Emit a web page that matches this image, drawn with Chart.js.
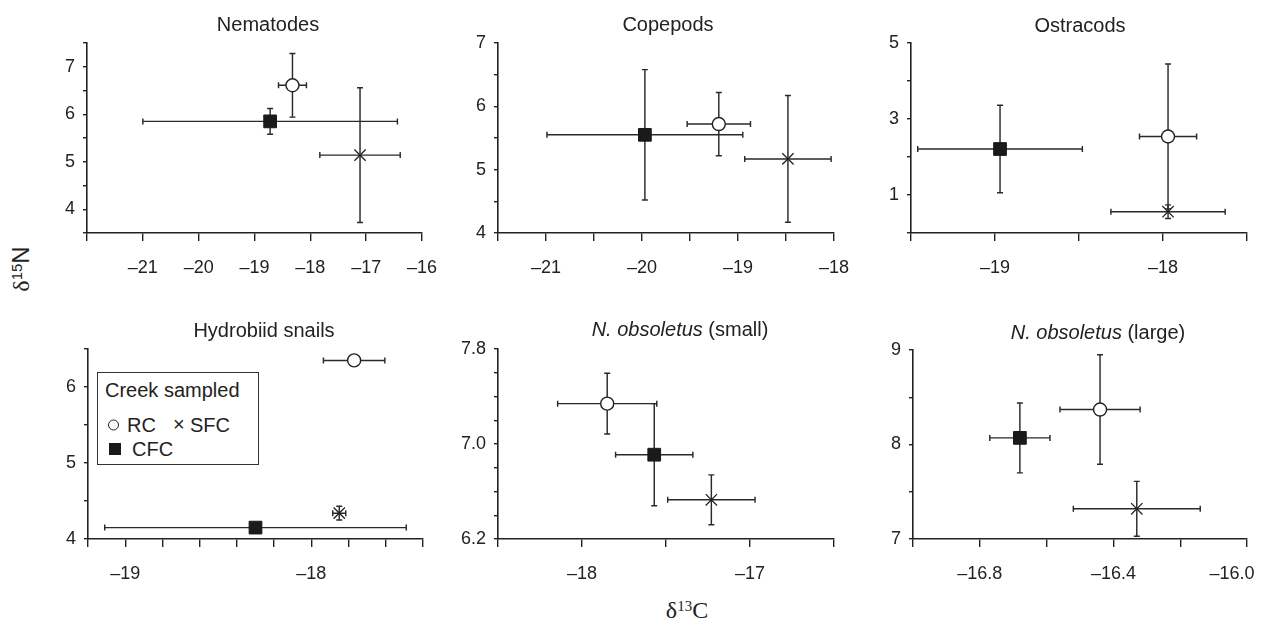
<!DOCTYPE html>
<html>
<head>
<meta charset="utf-8">
<script src="https://cdn.jsdelivr.net/npm/chart.js@4.4.0/dist/chart.umd.min.js"></script>
<style>
  body { margin: 0; background: #fff; }
  #page { position: relative; width: 1262px; height: 621px; overflow: hidden;
          font-family: "Liberation Sans", Arial, Helvetica, sans-serif; color: #222; }
  #page canvas { position: absolute; }
  .ttl { position: absolute; font-size: 20px; line-height: 1; white-space: nowrap; transform: translate(-50%, -50%); }
  .axt { position: absolute; font-size: 24px; line-height: 1; white-space: nowrap; }
  .axt .d { font-family: "Liberation Serif", "Times New Roman", serif; }
  .axt sup { font-size: 15px; vertical-align: baseline; position: relative; top: -7px; }
  #legend { position: absolute; left: 97px; top: 372px; width: 162px; height: 93px;
            border: 1.5px solid #333; box-sizing: border-box; background: #fff; font-size: 20px; }
  #legend .it { position: absolute; line-height: 1; transform: translateY(-50%); white-space: nowrap; }
</style>
</head>
<body>
<div id="page">
  <div id="legend">
    <div class="it" style="left:7px; top:17px;">Creek sampled</div>
    <div class="it" style="left:10px; top:52px; width:9px; height:9px; border:1.4px solid #222; border-radius:50%;"></div>
    <div class="it" style="left:29px; top:52px;">RC</div>
    <div class="it" style="left:75px; top:51px;">×</div>
    <div class="it" style="left:92px; top:52px;">SFC</div>
    <div class="it" style="left:11px; top:76px; width:12px; height:12px; background:#1a1a1a;"></div>
    <div class="it" style="left:34px; top:76px;">CFC</div>
  </div>
  <div class="axt" style="left:21px; top:269px; transform: translate(-50%, -50%) rotate(-90deg);"><span class="d">δ</span><sup>15</sup>N</div>
  <div class="axt" style="left:687px; top:610px; transform: translate(-50%, -50%); font-family:'Liberation Serif', serif;">δ<sup>13</sup>C</div>
</div>
<script>
// ---- values: one entry per panel ----
const panelTitles = ['Nematodes', 'Copepods', 'Ostracods', 'Hydrobiid snails',
                     'N. obsoletus (small)', 'N. obsoletus (large)'];

// RC (open circles)
const rcX    = [-18.32, -19.20, -17.97, -17.77, -17.85, -16.44];
const rcXErr = [0.25, 0.33, 0.17, 0.165, 0.295, 0.12];
const rcY    = [6.61, 5.72, 2.54, 6.35, 7.34, 8.37];
const rcYErr = [0.67, 0.50, 1.91, 0, 0.255, 0.58];
// CFC (filled squares)
const cfcX    = [-18.72, -19.97, -18.97, -18.30, -17.57, -16.68];
const cfcXErr = [2.28, 1.02, 0.49, 0.81, 0.23, 0.09];
const cfcY    = [5.85, 5.55, 2.21, 4.15, 6.91, 8.07];
const cfcYErr = [0.27, 1.03, 1.15, 0.02, 0.43, 0.37];
// SFC (crosses)
const sfcX    = [-17.11, -18.48, -17.97, -17.85, -17.23, -16.33];
const sfcXErr = [0.72, 0.45, 0.34, 0.035, 0.26, 0.19];
const sfcY    = [5.14, 5.17, 0.56, 4.34, 6.53, 7.32];
const sfcYErr = [1.42, 1.00, 0.18, 0.09, 0.21, 0.29];

// axes
const xMin  = [-22, -21.5, -19.5, -19.2, -18.5, -17];
const xMax  = [-16, -18, -17.5, -17.4, -16.5, -16];
const xStep = [1, 0.5, 0.5, 0.2, 0.5, 0.2];
const xLabels = [[-21, -20, -19, -18, -17, -16], [-21, -20, -19, -18], [-19, -18],
                 [-19, -18], [-18, -17], [-16.8, -16.4, -16.0]];
const xDecimals = [0, 0, 0, 0, 0, 1];
const yMin  = [3.5, 4, 0, 4, 6.2, 7];
const yMax  = [7.5, 7, 5, 6.5, 7.8, 9];
const yStep = [0.5, 0.5, 1, 0.5, 0.2, 0.5];
const yLabels = [[4, 5, 6, 7], [4, 5, 6, 7], [1, 3, 5], [4, 5, 6], [6.2, 7.0, 7.8], [7, 8, 9]];
const yDecimals = [0, 0, 0, 0, 1, 0];

// ---- layout ----
const FONT = '"Liberation Sans", Arial, Helvetica, sans-serif';
const plotBoxes = [
  { l: 87,  r: 422,  t: 43,  b: 233 },
  { l: 498, r: 834,  t: 43,  b: 233 },
  { l: 911, r: 1247, t: 43,  b: 233 },
  { l: 88,  r: 423,  t: 349, b: 539 },
  { l: 498, r: 834,  t: 349, b: 539 },
  { l: 913, r: 1247, t: 350, b: 539 }
];
const titlePos = [[268, 24], [668, 24], [1080, 25], [264, 330], [680, 329], [1098, 332]];
const PAD_L = 60, PAD_R = 40, PAD_T = 12, PAD_B = 58;

Chart.defaults.font.family = FONT;
Chart.defaults.color = '#222';

function tickText(v, labels, dec, isLast) {
  const hit = labels.find(l => Math.abs(l - v) < 1e-6);
  if (hit === undefined) return '';
  let s = hit.toFixed(dec).replace('-', '\u2013');
  // the last label of the right-hand panel sits inside the figure edge
  if (isLast) s += '      ';
  return s;
}

// error bars drawn under the markers, through the chart's own scales
const errorBars = {
  id: 'errorBars',
  beforeDatasetsDraw(chart) {
    const ctx = chart.ctx, xs = chart.scales.x, ys = chart.scales.y;
    const cap = 3;
    ctx.save();
    ctx.strokeStyle = '#2a2a2a';
    ctx.lineWidth = 1.45;
    chart.data.datasets.forEach(ds => {
      ds.data.forEach(p => {
        const cx = xs.getPixelForValue(p.x), cy = ys.getPixelForValue(p.y);
        ctx.beginPath();
        if (p.xErr > 0) {
          const x0 = xs.getPixelForValue(p.x - p.xErr), x1 = xs.getPixelForValue(p.x + p.xErr);
          ctx.moveTo(x0, cy); ctx.lineTo(x1, cy);
          ctx.moveTo(x0, cy - cap); ctx.lineTo(x0, cy + cap);
          ctx.moveTo(x1, cy - cap); ctx.lineTo(x1, cy + cap);
        }
        if (p.yErr > 0) {
          const y0 = ys.getPixelForValue(p.y - p.yErr), y1 = ys.getPixelForValue(p.y + p.yErr);
          ctx.moveTo(cx, y0); ctx.lineTo(cx, y1);
          ctx.moveTo(cx - cap, y0); ctx.lineTo(cx + cap, y0);
          ctx.moveTo(cx - cap, y1); ctx.lineTo(cx + cap, y1);
        }
        ctx.stroke();
      });
    });
    ctx.restore();
  }
};

const page = document.getElementById('page');

function makePanel(i) {
  const b = plotBoxes[i];
  const W = (b.r - b.l) + PAD_L + PAD_R, H = (b.b - b.t) + PAD_T + PAD_B;
  const cv = document.createElement('canvas');
  cv.width = W; cv.height = H;
  cv.style.left = (b.l - PAD_L) + 'px';
  cv.style.top = (b.t - PAD_T) + 'px';
  cv.style.width = W + 'px';
  cv.style.height = H + 'px';
  page.appendChild(cv);

  const t = document.createElement('div');
  t.className = 'ttl';
  t.style.left = titlePos[i][0] + 'px';
  t.style.top = titlePos[i][1] + 'px';
  t.innerHTML = panelTitles[i].replace('N. obsoletus', '<i>N. obsoletus</i>');
  page.appendChild(t);

  const lastX = xLabels[i][xLabels[i].length - 1];

  new Chart(cv, {
    type: 'scatter',
    data: {
      datasets: [
        { label: 'RC', data: [{ x: rcX[i], y: rcY[i], xErr: rcXErr[i], yErr: rcYErr[i] }],
          pointStyle: 'circle', pointRadius: 6.5, backgroundColor: '#fff', borderColor: '#222', borderWidth: 1.4 },
        { label: 'CFC', data: [{ x: cfcX[i], y: cfcY[i], xErr: cfcXErr[i], yErr: cfcYErr[i] }],
          pointStyle: 'rect', pointRadius: 9, backgroundColor: '#1a1a1a', borderColor: '#1a1a1a', borderWidth: 1 },
        { label: 'SFC', data: [{ x: sfcX[i], y: sfcY[i], xErr: sfcXErr[i], yErr: sfcYErr[i] }],
          pointStyle: 'crossRot', pointRadius: 8, borderColor: '#222', borderWidth: 1.3 }
      ]
    },
    options: {
      responsive: false,
      animation: false,
      events: [],
      layout: { padding: { left: 0, right: PAD_R, top: PAD_T, bottom: 0 } },
      plugins: { legend: { display: false }, tooltip: { enabled: false }, title: { display: false } },
      scales: {
        x: {
          type: 'linear', min: xMin[i], max: xMax[i],
          ticks: {
            stepSize: xStep[i], autoSkip: false, maxRotation: 0, padding: 16, color: '#222',
            font: { size: 18 },
            callback: v => tickText(v, xLabels[i], xDecimals[i], i === 5 && Math.abs(v - lastX) < 1e-6)
          },
          grid: { drawOnChartArea: false, tickLength: 8, color: '#222', lineWidth: 1.4 },
          border: { color: '#222', width: 1.6 },
          afterFit: s => { s.height = PAD_B; s.paddingLeft = 0; s.paddingRight = 0; }
        },
        y: {
          type: 'linear', min: yMin[i], max: yMax[i],
          ticks: {
            stepSize: yStep[i], autoSkip: false, padding: 8, color: '#222',
            font: { size: 18 },
            callback: v => tickText(v, yLabels[i], yDecimals[i], false)
          },
          grid: { drawOnChartArea: false, tickLength: 4, color: '#222', lineWidth: 1.4 },
          border: { color: '#222', width: 1.6 },
          afterFit: s => { s.width = PAD_L; s.paddingTop = 0; s.paddingBottom = 0; }
        }
      }
    },
    plugins: [errorBars]
  });
}

for (let i = 0; i < panelTitles.length; i++) makePanel(i);
</script>
</body>
</html>
